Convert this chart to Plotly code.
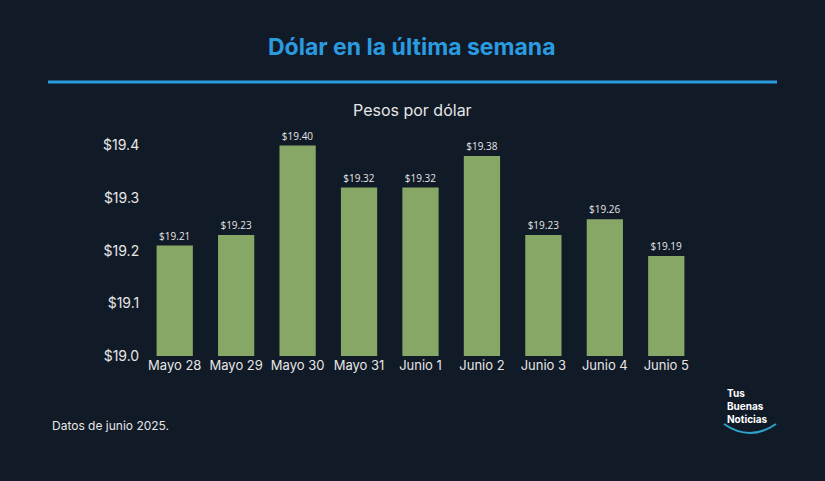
import plotly.graph_objects as go

categories = ["Mayo 28","Mayo 29","Mayo 30","Mayo 31","Junio 1","Junio 2","Junio 3","Junio 4","Junio 5"]
values = [19.21,19.23,19.40,19.32,19.32,19.38,19.23,19.26,19.19]
tick_vals = [19.0,19.1,19.2,19.3,19.4]
tick_text = ["$19.0","$19.1","$19.2","$19.3","$19.4"]

bg = "#111a27"
L, R, T, B = 144, 128, 135, 125
W, H = 825 - L - R, 481 - T - B
px = lambda x: (x - L) / W
py = lambda y: (481 - B - y) / H

fig = go.Figure(go.Bar(
    x=categories, y=values, marker_color="#87a766", marker_line_width=0,
    text=[f"${v:.2f}" for v in values], textposition="outside", cliponaxis=False,
    textfont=dict(color="#e6e6e6", size=10, family="Open Sans")))
fig.update_layout(
    width=825, height=481, paper_bgcolor=bg, plot_bgcolor=bg,
    margin=dict(l=L, r=R, t=T, b=B), bargap=0.41, showlegend=False,
    font=dict(family="Inter", color="#e6e6e6"),
    xaxis=dict(showgrid=False, tickfont=dict(size=13, color="#e6e6e6"), ticks="", showline=False),
    yaxis=dict(range=[19.0,19.42], tickvals=tick_vals, ticktext=tick_text, showgrid=False,
               zeroline=False, tickfont=dict(size=14, color="#e6e6e6"), ticklen=1, ticks="outside", tickcolor=bg),
    shapes=[dict(type="line", xref="paper", yref="paper", x0=px(48), x1=px(777), y0=py(82), y1=py(82),
                 line=dict(color="#2b9be0", width=3))],
    annotations=[
        dict(text="<b>Dólar en la última semana</b>", xref="paper", yref="paper", x=px(412), y=py(47),
             showarrow=False, font=dict(size=23, color="#2b9be0"), xanchor="center", yanchor="middle"),
        dict(text="Pesos por dólar", xref="paper", yref="paper", x=px(412), y=py(110),
             showarrow=False, font=dict(size=16, color="#e6e6e6"), xanchor="center", yanchor="middle"),
        dict(text="Datos de junio 2025.", xref="paper", yref="paper", x=px(50), y=py(425),
             showarrow=False, font=dict(size=12, color="#e6e6e6"), xanchor="left", yanchor="middle"),
        dict(text="<b>Tus<br>Buenas<br>Noticias</b>", xref="paper", yref="paper", x=px(725), y=py(406),
             showarrow=False, font=dict(size=10, color="#ffffff"), xanchor="left", yanchor="middle", align="left"),
    ])
fig.add_shape(type="path", xref="paper", yref="paper",
              path=f"M {px(724)},{py(424)} Q {px(750)},{py(442)} {px(776)},{py(424)}",
              line=dict(color="#2fa3c9", width=2))
fig.write_html("out.html", config={"displayModeBar": False},
               post_script="document.body.style.margin='0';document.body.style.background='#111a27';")
